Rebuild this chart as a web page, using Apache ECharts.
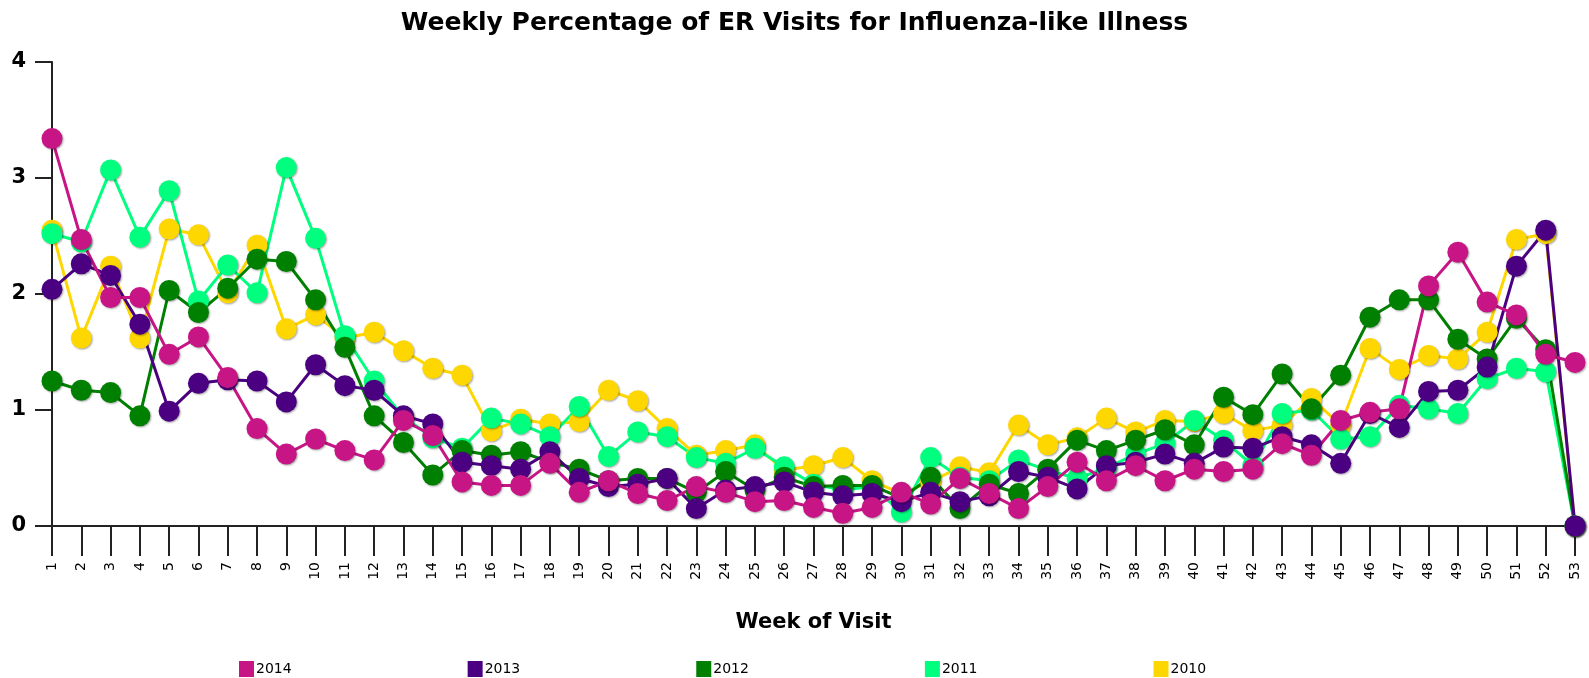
<!DOCTYPE html>
<html>
<head>
<meta charset="utf-8">
<script src="https://cdn.jsdelivr.net/npm/echarts@6/dist/echarts.min.js"></script>
<style>
  html, body { margin: 0; padding: 0; background: #fff; }
  #chart { width: 1589px; height: 678px; }
</style>
</head>
<body>
<div id="chart"></div>
<script>
// weeks 1..53
const weeks = []
for (let i = 1; i <= 53; i++) weeks.push(String(i))

const years = ['2014', '2013', '2012', '2011', '2010']
const colors = ['#C71585', '#4B0082', '#008000', '#00FF7F', '#FFD700']

const v2014 = [3.34, 2.47, 1.97, 1.97, 1.48, 1.63, 1.28, 0.84, 0.62, 0.75, 0.65, 0.57, 0.91, 0.78, 0.38, 0.35, 0.35, 0.54, 0.29, 0.39, 0.28, 0.22, 0.34, 0.29, 0.21, 0.22, 0.16, 0.11, 0.16, 0.29, 0.19, 0.41, 0.28, 0.15, 0.34, 0.55, 0.39, 0.52, 0.39, 0.49, 0.47, 0.49, 0.71, 0.61, 0.91, 0.98, 1.01, 2.07, 2.36, 1.93, 1.82, 1.48, 1.41]
const v2013 = [2.04, 2.26, 2.16, 1.74, 0.99, 1.23, 1.26, 1.25, 1.07, 1.39, 1.21, 1.17, 0.95, 0.88, 0.55, 0.52, 0.49, 0.64, 0.41, 0.34, 0.36, 0.41, 0.15, 0.31, 0.34, 0.38, 0.29, 0.26, 0.28, 0.21, 0.29, 0.21, 0.26, 0.47, 0.42, 0.32, 0.52, 0.55, 0.62, 0.54, 0.68, 0.67, 0.77, 0.70, 0.54, 0.97, 0.85, 1.16, 1.17, 1.37, 2.24, 2.55, 0]
const v2012 = [1.25, 1.17, 1.15, 0.95, 2.03, 1.84, 2.05, 2.30, 2.28, 1.95, 1.54, 0.95, 0.72, 0.44, 0.65, 0.61, 0.64, 0.55, 0.49, 0.39, 0.41, 0.41, 0.29, 0.47, 0.31, 0.42, 0.34, 0.35, 0.35, 0.24, 0.42, 0.15, 0.36, 0.28, 0.49, 0.74, 0.65, 0.74, 0.83, 0.70, 1.11, 0.96, 1.31, 1.01, 1.30, 1.80, 1.95, 1.95, 1.61, 1.44, 1.79, 1.52, 0]
const v2011 = [2.52, 2.45, 3.07, 2.49, 2.89, 1.94, 2.25, 2.01, 3.09, 2.48, 1.64, 1.25, 0.94, 0.76, 0.67, 0.93, 0.88, 0.77, 1.03, 0.60, 0.81, 0.77, 0.59, 0.54, 0.67, 0.51, 0.36, 0.31, 0.34, 0.12, 0.59, 0.42, 0.39, 0.57, 0.48, 0.41, 0.50, 0.62, 0.71, 0.91, 0.74, 0.52, 0.97, 1.00, 0.75, 0.77, 1.04, 1.01, 0.97, 1.27, 1.36, 1.33, 0]
const v2010 = [2.55, 1.62, 2.24, 1.62, 2.56, 2.51, 2.01, 2.42, 1.70, 1.82, 1.62, 1.67, 1.51, 1.36, 1.30, 0.82, 0.92, 0.88, 0.90, 1.17, 1.08, 0.84, 0.61, 0.65, 0.70, 0.48, 0.52, 0.59, 0.39, 0.28, 0.38, 0.51, 0.46, 0.87, 0.70, 0.76, 0.93, 0.81, 0.91, 0.90, 0.97, 0.82, 0.87, 1.10, 0.87, 1.53, 1.35, 1.47, 1.44, 1.67, 2.47, 2.52, 0]

const yTicks = [0, 1, 2, 3, 4]

const valuesByYear = { '2014': v2014, '2013': v2013, '2012': v2012, '2011': v2011, '2010': v2010 }

const chart = echarts.init(document.getElementById('chart'))

// 2010 drawn first so 2014 ends up on top
const series = years.slice().reverse().map(function (y) {
  const c = colors[years.indexOf(y)]
  return {
    name: y,
    type: 'line',
    data: valuesByYear[y],
    symbol: 'circle',
    symbolSize: 21,
    color: c,
    lineStyle: { width: 3, color: c },
    itemStyle: {
      color: c,
      shadowColor: 'rgba(0,0,0,0.35)',
      shadowBlur: 2,
      shadowOffsetX: 1,
      shadowOffsetY: 1
    },
    animation: false
  }
})

const option = {
  backgroundColor: '#fff',
  title: {
    text: 'Weekly Percentage of ER Visits for Influenza-like Illness',
    left: 'center',
    top: 6,
    textStyle: { fontFamily: 'DejaVu Sans', fontSize: 25, fontWeight: 'bold', color: '#000' }
  },
  legend: {
    data: years,
    top: 656,
    left: 234,
    itemWidth: 15,
    itemHeight: 16,
    itemGap: 176,
    icon: 'rect',
    textStyle: { fontFamily: 'DejaVu Sans', fontSize: 14, color: '#000', padding: [0, 0, 0, -3] }
  },
  grid: { left: 52, right: 14, top: 62, bottom: 152, containLabel: false },
  xAxis: {
    type: 'category',
    data: weeks,
    boundaryGap: false,
    name: 'Week of Visit',
    nameLocation: 'middle',
    nameGap: 86,
    nameTextStyle: { fontFamily: 'DejaVu Sans', fontSize: 21, fontWeight: 'bold', color: '#000' },
    axisLine: { lineStyle: { color: '#222', width: 2 } },
    axisTick: { show: true, length: 30, alignWithLabel: true, lineStyle: { color: '#222', width: 2 } },
    axisLabel: { rotate: 90, margin: 36, interval: 0, fontFamily: 'DejaVu Sans', fontSize: 14, color: '#000' },
    splitLine: { show: false }
  },
  yAxis: {
    type: 'value',
    min: yTicks[0],
    max: yTicks[yTicks.length - 1],
    interval: 1,
    axisLine: { show: true, lineStyle: { color: '#222', width: 2 } },
    axisTick: { show: true, length: 17, lineStyle: { color: '#222', width: 2 } },
    axisLabel: { margin: 26, fontFamily: 'DejaVu Sans', fontSize: 21, fontWeight: 'bold', color: '#000' },
    splitLine: { show: false }
  },
  series: series
}

chart.setOption(option)
</script>
</body>
</html>
